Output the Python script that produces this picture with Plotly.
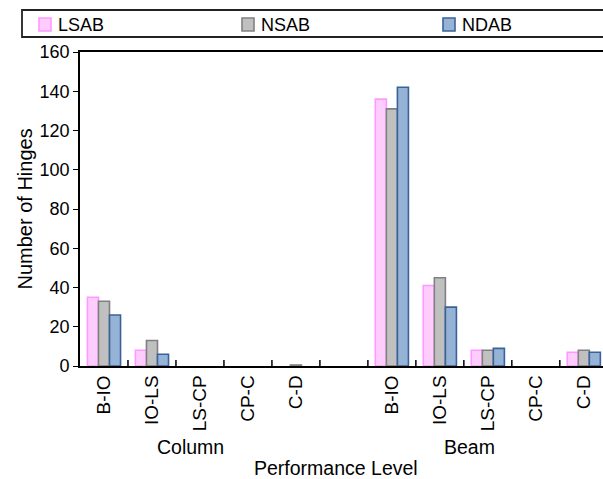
import plotly.graph_objects as go

# ---- data ----
levels = ["B-IO", "IO-LS", "LS-CP", "CP-C", "C-D"]
groups = ["Column", "Beam"]
series_names = ["LSAB", "NSAB", "NDAB"]

column_lsab = [35, 8, 0, 0, 0]
column_nsab = [33, 13, 0, 0, 0.5]
column_ndab = [26, 6, 0, 0, 0]

beam_lsab = [136, 41, 8, 0, 7]
beam_nsab = [131, 45, 8, 0, 8]
beam_ndab = [142, 30, 9, 0, 7]

y_ticks = [0, 20, 40, 60, 80, 100, 120, 140, 160]

# ---- styles ----
fills = ["#FFCCFF", "#C0C0C0", "#95B3D7"]
lines = ["#FF99FF", "#808080", "#3B6296"]
FONT = "Arial, 'Liberation Sans', sans-serif"

# slot layout: 5 column levels, one empty slot, 5 beam levels
slot_labels = levels + [""] + levels
col_pos = list(range(len(levels)))
beam_pos = [len(levels) + 1 + i for i in range(len(levels))]
x_pos = col_pos + beam_pos
slot_pos = list(range(len(slot_labels)))
boundaries = [p + 0.5 for p in slot_pos[:-1]]
x_range = [-0.5, 10.4]

series_vals = [
    column_lsab + beam_lsab,
    column_nsab + beam_nsab,
    column_ndab + beam_ndab,
]

fig = go.Figure()
for name, vals, fc, lc in zip(series_names, series_vals, fills, lines):
    fig.add_trace(go.Bar(
        name=name, x=x_pos, y=[v if v else None for v in vals],
        marker=dict(color=fc, line=dict(color=lc, width=1.6)),
        showlegend=False,
    ))

W, H = 603, 479
L, R, T, B = 80, 0, 52, 113
pw, ph = W - L - R, H - T - B

def px(x):
    return (x - L) / pw

def py(y):
    return (H - B - y) / ph

shapes = []
annotations = []
# category boundary tick marks (inside, on the x axis)
for bpos in boundaries:
    shapes.append(dict(type="line", xref="x", yref="paper",
                       x0=bpos, x1=bpos, y0=0, y1=6 / ph,
                       line=dict(color="black", width=1.5), layer="above"))
# legend box
shapes.append(dict(type="rect", xref="paper", yref="paper",
                   x0=px(22), x1=px(612), y0=py(37), y1=py(10),
                   line=dict(color="#222222", width=1.8), fillcolor="white"))
leg_marker_x = [39, 242, 443]
for name, fc, lc, mx in zip(series_names, fills, lines, leg_marker_x):
    shapes.append(dict(type="rect", xref="paper", yref="paper",
                       x0=px(mx), x1=px(mx + 12), y0=py(31), y1=py(18),
                       line=dict(color=lc, width=1.6), fillcolor=fc))
    annotations.append(dict(text=name, xref="paper", yref="paper",
                            x=px(mx + 17), y=py(24.5), xanchor="left", yanchor="middle",
                            showarrow=False, font=dict(size=18, color="black", family=FONT)))

# group labels
for g, cx in zip(groups, [190, 469]):
    annotations.append(dict(text=g, xref="paper", yref="paper",
                            x=px(cx), y=py(447), xanchor="center", yanchor="middle",
                            showarrow=False, font=dict(size=19.5, color="black", family=FONT)))
annotations.append(dict(text="Performance Level", xref="paper", yref="paper",
                        x=px(336), y=py(468), xanchor="center", yanchor="middle",
                        showarrow=False, font=dict(size=19.5, color="black", family=FONT)))
annotations.append(dict(text="Number of Hinges", xref="paper", yref="paper",
                        x=px(24.5), y=py(209), xanchor="center", yanchor="middle",
                        textangle=-90,
                        showarrow=False, font=dict(size=20, color="black", family=FONT)))

fig.update_layout(
    width=W, height=H,
    margin=dict(l=L, r=R, t=T, b=B, pad=0),
    paper_bgcolor="white", plot_bgcolor="white",
    barmode="group", bargap=0.31, bargroupgap=0,
    font=dict(family=FONT, color="black"),
    shapes=shapes, annotations=annotations,
    showlegend=False,
    xaxis=dict(
        type="linear", range=x_range,
        tickmode="array", tickvals=slot_pos, ticktext=slot_labels,
        ticks="",
        tickangle=-90, tickfont=dict(size=19, color="black", family=FONT),
        showline=True, linecolor="black", linewidth=1.6, mirror=True,
        showgrid=False, zeroline=False,
    ),
    yaxis=dict(
        range=[0, 160], tickmode="array", tickvals=y_ticks,
        ticks="outside", ticklen=5, tickwidth=1.3, tickcolor="black",
        tickfont=dict(size=18, color="black", family=FONT),
        showline=True, linecolor="black", linewidth=1.6,
        showgrid=False, zeroline=False,
    ),
)

fig.write_html("out.html")
